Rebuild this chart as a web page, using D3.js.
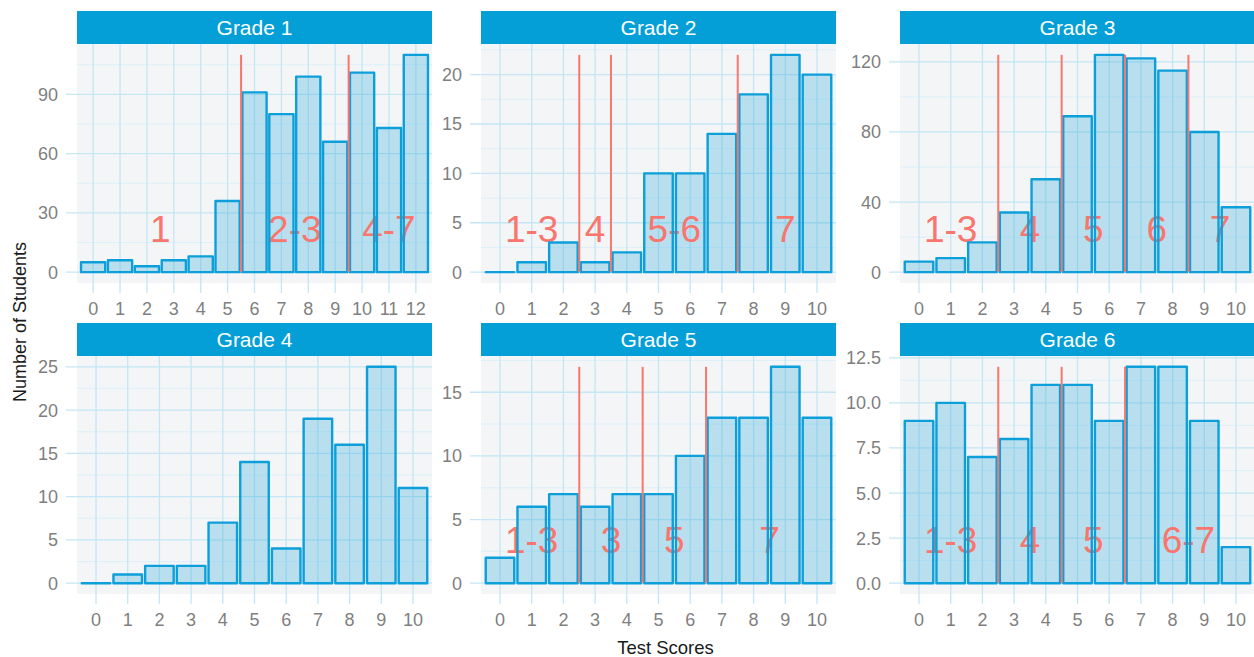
<!DOCTYPE html>
<html>
<head>
<meta charset="utf-8">
<script src="https://cdn.jsdelivr.net/npm/d3@7"></script>
<style>
  html, body { margin: 0; padding: 0; background: #ffffff; }
  svg { display: block; font-family: "Liberation Sans", Arial, sans-serif; }
</style>
</head>
<body>
<svg id="chart" width="1254" height="657"></svg>
<script>
// ---- Data ----
const grades = ["Grade 1", "Grade 2", "Grade 3", "Grade 4", "Grade 5", "Grade 6"];

const g1Scores = [0,1,2,3,4,5,6,7,8,9,10,11,12];
const g1Counts = [5,6,3,6,8,36,91,80,99,66,101,73,110];
const g2Scores = [0,1,2,3,4,5,6,7,8,9,10];
const g2Counts = [0,1,3,1,2,10,10,14,18,22,20];
const g3Scores = [0,1,2,3,4,5,6,7,8,9,10];
const g3Counts = [6,8,17,34,53,89,124,122,115,80,37];
const g4Scores = [0,1,2,3,4,5,6,7,8,9,10];
const g4Counts = [0,1,2,2,7,14,4,19,16,25,11];
const g5Scores = [0,1,2,3,4,5,6,7,8,9,10];
const g5Counts = [2,6,7,6,7,7,10,13,13,17,13];
const g6Scores = [0,1,2,3,4,5,6,7,8,9,10];
const g6Counts = [9,10,7,8,11,11,9,12,12,9,2];

const g1Cuts = [5.5, 9.5];
const g2Cuts = [2.5, 3.5, 7.5];
const g3Cuts = [2.5, 4.5, 6.5, 8.5];
const g4Cuts = [];
const g5Cuts = [2.5, 4.5, 6.5];
const g6Cuts = [2.5, 4.5, 6.5];

const g1Levels = ["1", "2-3", "4-7"];
const g2Levels = ["1-3", "4", "5-6", "7"];
const g3Levels = ["1-3", "4", "5", "6", "7"];
const g4Levels = [];
const g5Levels = ["1-3", "3", "5", "7"];
const g6Levels = ["1-3", "4", "5", "6-7"];

const g1YTicks = [0, 30, 60, 90];
const g2YTicks = [0, 5, 10, 15, 20];
const g3YTicks = [0, 40, 80, 120];
const g4YTicks = [0, 5, 10, 15, 20, 25];
const g5YTicks = [0, 5, 10, 15];
const g6YTicks = [0, 2.5, 5, 7.5, 10, 12.5];

const xTitle = "Test Scores";
const yTitle = "Number of Students";

const panels = [
  {name: grades[0], scores: g1Scores, counts: g1Counts, cuts: g1Cuts, levels: g1Levels, yticks: g1YTicks, fmt: d3.format("d")},
  {name: grades[1], scores: g2Scores, counts: g2Counts, cuts: g2Cuts, levels: g2Levels, yticks: g2YTicks, fmt: d3.format("d")},
  {name: grades[2], scores: g3Scores, counts: g3Counts, cuts: g3Cuts, levels: g3Levels, yticks: g3YTicks, fmt: d3.format("d")},
  {name: grades[3], scores: g4Scores, counts: g4Counts, cuts: g4Cuts, levels: g4Levels, yticks: g4YTicks, fmt: d3.format("d")},
  {name: grades[4], scores: g5Scores, counts: g5Counts, cuts: g5Cuts, levels: g5Levels, yticks: g5YTicks, fmt: d3.format("d")},
  {name: grades[5], scores: g6Scores, counts: g6Counts, cuts: g6Cuts, levels: g6Levels, yticks: g6YTicks, fmt: d3.format(".1f")}
];

// ---- Layout ----
const colLeft = [77, 481, 900];
const panelW = 355;
const stripTop = [11, 323];
const stripH = 33;
const panelTop = [44, 356];
const panelH = [239, 238];

const C = {
  strip: "#049fd7",
  bg: "#f3f5f7",
  gridMajor: "#c4e6f5",
  gridMinor: "#dcf0f9",
  barStroke: "#0c9fd9",
  red: "#f8766d",
  tick: "#7f7f7f"
};

const svg = d3.select("#chart");

panels.forEach((p, i) => {
  const col = i % 3, row = Math.floor(i / 3);
  const left = colLeft[col], top = panelTop[row], h = panelH[row];
  const maxC = d3.max(p.counts);
  const nS = p.scores.length;

  const x = d3.scaleLinear().domain([-0.6, nS - 1 + 0.6]).range([left, left + panelW]);
  const y = d3.scaleLinear().domain([-0.05 * maxC, 1.05 * maxC]).range([top + h, top]);

  const g = svg.append("g");

  // strip
  g.append("rect").attr("x", left).attr("y", stripTop[row]).attr("width", panelW).attr("height", stripH)
    .attr("fill", C.strip);
  g.append("text").attr("x", left + panelW / 2).attr("y", stripTop[row] + stripH / 2)
    .attr("dy", "0.36em").attr("text-anchor", "middle").attr("fill", "#ffffff")
    .attr("font-size", 21).text(p.name);

  // panel background
  g.append("rect").attr("x", left).attr("y", top).attr("width", panelW).attr("height", h).attr("fill", C.bg);

  // minor grid
  const step = p.yticks[1] - p.yticks[0];
  const minors = p.yticks.map(t => t + step / 2).filter(v => v <= y.domain()[1]);
  g.selectAll(".minor").data(minors).enter().append("line")
    .attr("x1", left).attr("x2", left + panelW)
    .attr("y1", d => y(d)).attr("y2", d => y(d))
    .attr("stroke", C.gridMinor).attr("stroke-width", 1);

  // major grid horizontal + ticks
  g.selectAll(".hmajor").data(p.yticks).enter().append("line")
    .attr("x1", left - 11).attr("x2", left + panelW)
    .attr("y1", d => y(d)).attr("y2", d => y(d))
    .attr("stroke", C.gridMajor).attr("stroke-width", 1.3);
  // vertical major grid + ticks
  g.selectAll(".vmajor").data(p.scores).enter().append("line")
    .attr("x1", d => x(d)).attr("x2", d => x(d))
    .attr("y1", top).attr("y2", top + h + 10)
    .attr("stroke", C.gridMajor).attr("stroke-width", 1.3);

  // y tick labels
  g.selectAll(".ylab").data(p.yticks).enter().append("text")
    .attr("x", left - 19).attr("y", d => y(d)).attr("dy", "0.36em")
    .attr("text-anchor", "end").attr("fill", C.tick).attr("font-size", 18)
    .text(d => p.fmt(d));
  // x tick labels
  g.selectAll(".xlab").data(p.scores).enter().append("text")
    .attr("x", d => x(d)).attr("y", top + h + 32)
    .attr("text-anchor", "middle").attr("fill", C.tick).attr("font-size", 18)
    .text(d => d);

  const barData = p.scores.map((s, k) => ({s, c: p.counts[k]}));
  const barPath = d => {
    const x0 = x(d.s - 0.45), x1 = x(d.s + 0.45), y0 = y(0), y1 = y(d.c);
    return `M${x0},${y0}L${x0},${y1}L${x1},${y1}L${x1},${y0}Z`;
  };

  // bar fills
  g.selectAll(".barfill").data(barData).enter().append("path")
    .attr("d", barPath)
    .attr("fill", "#0c9fd9").attr("fill-opacity", 0.25).attr("stroke", "none");

  // group labels
  const bounds = [-0.5, ...p.cuts, nS - 0.5];
  const labelData = p.levels.map((lv, k) => ({lv, pos: (bounds[k] + bounds[k + 1]) / 2}));
  g.selectAll(".grp").data(labelData).enter().append("text")
    .attr("x", d => x(d.pos)).attr("y", y(0.2 * maxC)).attr("dy", "0.36em")
    .attr("text-anchor", "middle").attr("fill", C.red).attr("font-size", 37)
    .text(d => d.lv);

  // bar outlines
  g.selectAll(".barline").data(barData).enter().append("path")
    .attr("d", barPath)
    .attr("fill", "none")
    .attr("stroke", C.barStroke).attr("stroke-width", 2.4).attr("stroke-linejoin", "round");

  // cut lines
  g.selectAll(".cut").data(p.cuts).enter().append("line")
    .attr("x1", d => x(d)).attr("x2", d => x(d))
    .attr("y1", y(0)).attr("y2", y(maxC))
    .attr("stroke", C.red).attr("stroke-width", 2);
});

// axis titles
svg.append("text").attr("x", 665.5).attr("y", 654).attr("text-anchor", "middle")
  .attr("fill", "#1a1a1a").attr("font-size", 18.5).text(xTitle);
svg.append("text").attr("transform", "translate(26,322) rotate(-90)")
  .attr("text-anchor", "middle").attr("fill", "#1a1a1a").attr("font-size", 18).text(yTitle);
</script>
</body>
</html>
